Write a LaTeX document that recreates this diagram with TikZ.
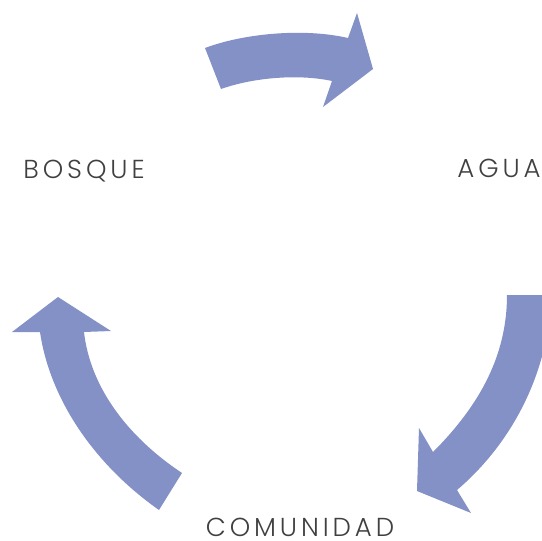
\documentclass[tikz,border=0pt]{standalone}
\usepackage{fontspec}
\newfontfamily\lblfont{Poppins Light}[LetterSpace=15]
\definecolor{arrowfill}{HTML}{8491C6}
\definecolor{lbltext}{HTML}{404040}
\tikzset{
  cyclearrow/.style={fill=arrowfill, draw=none},
  lbl/.style={text=lbltext, font=\lblfont\fontsize{26}{26}\selectfont, inner sep=0pt, text depth=0pt, anchor=base}
}
\begin{document}
\begin{tikzpicture}[x=1pt,y=-1pt]
\useasboundingbox (0,0) rectangle (542,541);
% top arrow: BOSQUE -> AGUA
\fill[cyclearrow] (205,48) .. controls (245,33) and (305,28) .. (348,38) -- (357,13) -- (373,69) -- (323,107) -- (332,81) .. controls (300,74) and (255,77) .. (221,89) -- cycle;
% right arrow: AGUA -> COMUNIDAD (cut by the right edge)
\begin{scope}
\clip (0,0) rectangle (542,541);
\fill[cyclearrow] (507,295) -- (551,295) .. controls (549,375) and (510,445) .. (457,490) -- (471,513) -- (417,491) -- (419,428) -- (433,452) .. controls (480,405) and (507,355) .. (507,295) -- cycle;
\end{scope}
% left arrow: COMUNIDAD -> BOSQUE
\fill[cyclearrow] (58,297) -- (111,331) -- (84,332) .. controls (90,385) and (125,435) .. (182,473) -- (159,510) .. controls (95,465) and (50,400) .. (40,332) -- (12,332) -- cycle;
\node[lbl] (bosque) at (84,178.5) {BOSQUE};
\node[lbl] (agua) at (499,177.5) {AGUA};
\node[lbl] (comunidad) at (300,536) {COMUNIDAD};
\end{tikzpicture}
\end{document}
